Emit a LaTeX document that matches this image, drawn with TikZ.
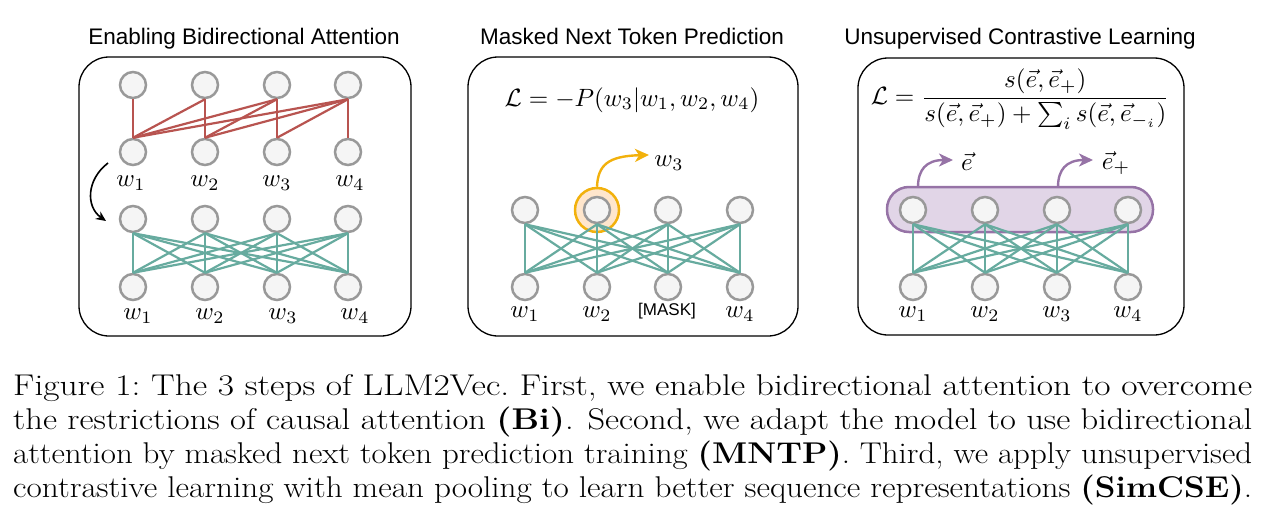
\documentclass[tikz,border=0pt]{standalone}
\usepackage{amsmath}
\usepackage{graphicx}
\usepackage{fontspec}
\newfontfamily\titlefont{Liberation Sans}
\usetikzlibrary{arrows.meta}
\definecolor{nodefill}{HTML}{F5F5F5}
\definecolor{nodeline}{HTML}{999999}
\definecolor{redline}{HTML}{B85450}
\definecolor{greenline}{HTML}{67AB9F}
\definecolor{orfill}{HTML}{FFE6CC}
\definecolor{orline}{HTML}{F2B10C}
\definecolor{pufill}{HTML}{E1D5E7}
\definecolor{puline}{HTML}{9673A6}
\newcommand{\mymath}[1]{\scalebox{2.5}{$#1$}}
\newcommand{\capl}[1]{\resizebox{1239pt}{\height}{#1}}
\begin{document}
\begin{tikzpicture}[x=1pt,y=-1pt,
  neuron/.style={circle, draw=nodeline, fill=nodefill, line width=2.5pt, minimum size=26pt, inner sep=0pt},
  panel/.style={draw=black, line width=1.3pt, rounded corners=30pt, inner sep=0pt},
  causal/.style={draw=redline, line width=2.2pt},
  bidir/.style={draw=greenline, line width=2.2pt},
  title/.style={font=\titlefont\fontsize{22.5}{26}\selectfont, anchor=base, inner sep=0pt},
  lab/.style={inner sep=0pt},
  formula/.style={inner sep=0pt},
  capline/.style={font=\fontsize{30}{34}\selectfont, anchor=base west, inner sep=0pt},
  tiparrow/.style={-{Stealth[length=14pt,width=13pt,inset=4pt]}, line width=2.4pt},
]
\useasboundingbox (0,0) rectangle (1272,519);

% panels
\node[panel, minimum width=332pt, minimum height=279pt] (box1) at (245,196.5) {};
\node[panel, minimum width=330pt, minimum height=279pt] (box2) at (633,196.5) {};
\node[panel, minimum width=326pt, minimum height=277pt] (box3) at (1021,196.5) {};

% titles
\node[title] (t1) at (244,45) {Enabling Bidirectional Attention};
\node[title] (t2) at (632,45) {Masked Next Token Prediction};
\node[title] (t3) at (1020,45) {Unsupervised Contrastive Learning};

% ---------- panel 1 ----------
\foreach \i/\x in {1/133,2/205,3/277,4/348}{
  \node[neuron] (a\i) at (\x,85) {};
  \node[neuron] (b\i) at (\x,152) {};
  \node[neuron] (c\i) at (\x,219) {};
  \node[neuron] (d\i) at (\x,287) {};
}
\foreach \j in {1,...,4}{
  \foreach \i in {1,...,\j}{
    \draw[causal] (a\j.south) -- (b\i.north);
  }
}
\foreach \j in {1,...,4}{
  \foreach \i in {1,...,4}{
    \draw[bidir] (c\j.south) -- (d\i.north);
  }
}
\node[lab] (lb1) at (131,183) {\mymath{w_1}};
\node[lab] (lb2) at (205,183) {\mymath{w_2}};
\node[lab] (lb3) at (277,183) {\mymath{w_3}};
\node[lab] (lb4) at (350,183) {\mymath{w_4}};
\node[lab] (ld1) at (138,316) {\mymath{w_1}};
\node[lab] (ld2) at (210,316) {\mymath{w_2}};
\node[lab] (ld3) at (283,316) {\mymath{w_3}};
\node[lab] (ld4) at (355,316) {\mymath{w_4}};
\coordinate (arrS) at (108,163);
\coordinate (arrE) at (106,221);
\draw[-{Stealth[length=10pt,width=9pt]}, line width=1.6pt] (arrS) .. controls (86,180) and (86,207) .. (arrE);

% ---------- panel 2 ----------
\node[formula] (f2) at (632,100) {\mymath{\mathcal{L} = -P(w_3|w_1,w_2,w_4)}};
\node[circle, draw=orline, fill=orfill, line width=2.5pt, minimum size=44pt, inner sep=0pt] (hl) at (597,210) {};
\foreach \i/\x in {1/525,2/597,3/668,4/740}{
  \node[neuron] (p\i) at (\x,210) {};
  \node[neuron] (q\i) at (\x,287) {};
}
\foreach \j in {1,...,4}{
  \foreach \i in {1,...,4}{
    \draw[bidir] (p\j.south) -- (q\i.north);
  }
}
\node[lab] (lq1) at (525,314) {\mymath{w_1}};
\node[lab] (lq2) at (597,314) {\mymath{w_2}};
\node[font=\titlefont\fontsize{17}{20}\selectfont, inner sep=0pt] (lq3) at (667,311) {[MASK]};
\node[lab] (lq4) at (740,314) {\mymath{w_4}};
\node[lab] (pred) at (669,163) {\mymath{w_3}};
\coordinate (otip) at (649,155);
\draw[tiparrow, draw=orline] (hl.north) .. controls (598,165) and (608,156) .. (otip);

% ---------- panel 3 ----------
\node[formula] (f3) at (1020,99) {\scalebox{2.5}{$\displaystyle \mathcal{L} = \frac{s(\vec{e},\vec{e}_{+})}{s(\vec{e},\vec{e}_{+})+\sum_i s(\vec{e},\vec{e}_{-_i})}$}};
\node[draw=puline, fill=pufill, line width=2.5pt, rounded corners=22pt, minimum width=266pt, minimum height=45pt, inner sep=0pt] (pool) at (1020,209.5) {};
\foreach \i/\x in {1/913,2/985,3/1057,4/1128}{
  \node[neuron] (r\i) at (\x,210) {};
  \node[neuron] (s\i) at (\x,287) {};
}
\foreach \j in {1,...,4}{
  \foreach \i in {1,...,4}{
    \draw[bidir] (r\j.south) -- (s\i.north);
  }
}
\node[lab] (ls1) at (913,314) {\mymath{w_1}};
\node[lab] (ls2) at (985,314) {\mymath{w_2}};
\node[lab] (ls3) at (1057,314) {\mymath{w_3}};
\node[lab] (ls4) at (1128,314) {\mymath{w_4}};
\coordinate (pA) at (918,187);
\coordinate (pAt) at (953,160);
\coordinate (pB) at (1058,187);
\coordinate (pBt) at (1093,160);
\draw[tiparrow, draw=puline] (pA) .. controls (918,170) and (926,160) .. (pAt);
\draw[tiparrow, draw=puline] (pB) .. controls (1058,170) and (1066,160) .. (pBt);
\node[lab] (ve) at (967,162) {\mymath{\vec{e}}};
\node[lab] (vep) at (1116,163) {\mymath{\vec{e}_{+}}};

% ---------- caption ----------
\node[capline] (cap1) at (13,395) {\capl{Figure 1:\ The 3 steps of LLM2Vec.\ First, we enable bidirectional attention to overcome}};
\node[capline] (cap2) at (13,429) {\capl{the restrictions of causal attention \textbf{(Bi)}. Second, we adapt the model to use bidirectional}};
\node[capline] (cap3) at (13,463) {\capl{attention by masked next token prediction training \textbf{(MNTP)}. Third, we apply unsupervised}};
\node[capline] (cap4) at (13,497) {\capl{contrastive learning with mean pooling to learn better sequence representations \textbf{(SimCSE)}.}};
\end{tikzpicture}
\end{document}
